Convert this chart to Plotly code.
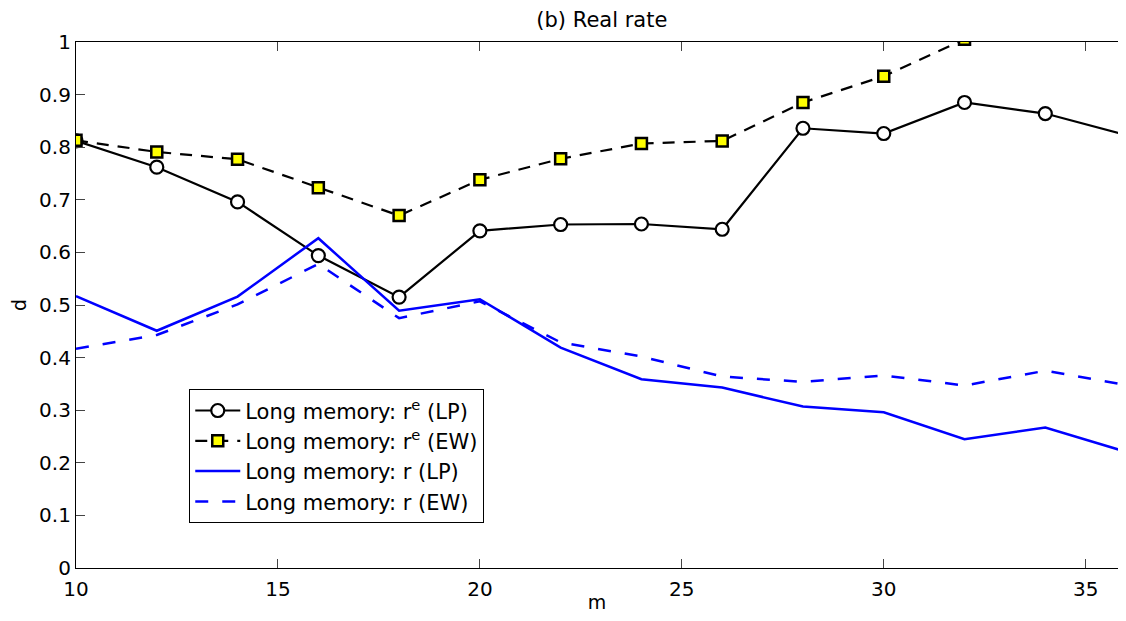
import plotly.graph_objects as go

m = [10, 12, 14, 16, 18, 20, 22, 24, 26, 28, 30, 32, 34, 36]
re_lp = [0.812, 0.762, 0.696, 0.594, 0.515, 0.641, 0.653, 0.654, 0.644, 0.836, 0.826, 0.885, 0.864, 0.823]
re_ew = [0.813, 0.791, 0.777, 0.723, 0.670, 0.738, 0.778, 0.807, 0.812, 0.885, 0.935, 1.005, 1.06, 1.04]
r_lp = [0.517, 0.451, 0.516, 0.627, 0.489, 0.511, 0.419, 0.359, 0.343, 0.307, 0.296, 0.245, 0.267, 0.221]
r_ew = [0.417, 0.443, 0.501, 0.578, 0.475, 0.507, 0.429, 0.402, 0.364, 0.354, 0.366, 0.347, 0.375, 0.348]

x_ticks = [10, 15, 20, 25, 30, 35]
y_ticks = [0, 0.1, 0.2, 0.3, 0.4, 0.5, 0.6, 0.7, 0.8, 0.9, 1]
y_tick_labels = ["0", "0.1", "0.2", "0.3", "0.4", "0.5", "0.6", "0.7", "0.8", "0.9", "1"]

names = ["Long memory: r<sup>e</sup> (LP)", "Long memory: r<sup>e</sup> (EW)",
         "Long memory: r (LP)", "Long memory: r (EW)"]

FONT = "DejaVu Sans, Verdana, sans-serif"

fig = go.Figure()
fig.add_trace(go.Scatter(x=m, y=re_lp, name=names[0], mode="lines+markers",
                         line=dict(color="black", width=2.2),
                         marker=dict(symbol="circle", size=13, color="white",
                                     line=dict(color="black", width=2.2))))
fig.add_trace(go.Scatter(x=m, y=re_ew, name=names[1], mode="lines+markers",
                         line=dict(color="black", width=2.2, dash="12px,9px"),
                         marker=dict(symbol="square", size=11, color="#ffff00",
                                     line=dict(color="black", width=2.5))))
fig.add_trace(go.Scatter(x=m, y=r_lp, name=names[2], mode="lines",
                         line=dict(color="#0000ff", width=2.5)))
fig.add_trace(go.Scatter(x=m, y=r_ew, name=names[3], mode="lines",
                         line=dict(color="#0000ff", width=2.5, dash="13px,14px")))

tick_style = dict(ticks="inside", ticklen=9, tickcolor="#444444", tickwidth=1.2,
                  tickfont=dict(family=FONT, size=20, color="black"))

fig.update_xaxes(range=[10, 35.8], tickvals=x_ticks, ticklabelstandoff=3,
                 showgrid=False, zeroline=False, showline=True, linecolor="black",
                 linewidth=1.2, mirror="ticks",
                 title=dict(text="m", font=dict(family=FONT, size=19, color="black"), standoff=0),
                 **tick_style)
fig.update_yaxes(range=[0, 1], tickvals=y_ticks, ticktext=y_tick_labels,
                 showgrid=False, zeroline=False, showline=True, linecolor="black",
                 linewidth=1.2, mirror=False,
                 title=dict(text="d", font=dict(family=FONT, size=19, color="black"), standoff=12),
                 **tick_style)

fig.update_layout(
    width=1110, height=605,
    margin=dict(l=68, r=0, t=34, b=45),
    paper_bgcolor="white", plot_bgcolor="white",
    yaxis2=dict(overlaying="y", side="right", range=[0, 1], tickvals=y_ticks,
                showticklabels=False, showline=False, showgrid=False, zeroline=False,
                ticks="inside", ticklen=9, tickcolor="#444444", tickwidth=1.2),
    title=dict(text="(b) Real rate", x=0.535, xanchor="center", y=0.980, yanchor="middle",
               font=dict(family=FONT, size=21, color="black")),
    legend=dict(x=0.1085, y=0.34, xanchor="left", yanchor="top",
                bgcolor="white", bordercolor="black", borderwidth=1.2,
                font=dict(family=FONT, size=21, color="black"),
                tracegroupgap=0, itemwidth=45),
    showlegend=True,
)

fig.write_html("out.html")
